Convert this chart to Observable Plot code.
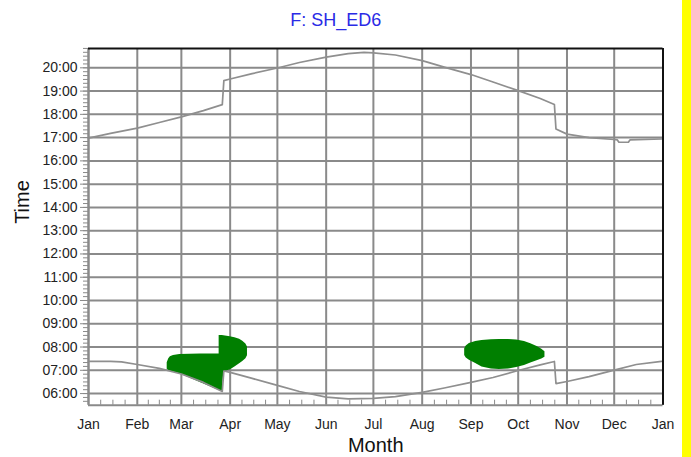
<!DOCTYPE html>
<html>
<head>
<meta charset="utf-8">
<script src="https://cdn.jsdelivr.net/npm/d3@7"></script>
<script src="https://cdn.jsdelivr.net/npm/@observablehq/plot@0.6"></script>
<style>
  html, body { margin: 0; padding: 0; background: #fff; }
  #wrap { position: relative; width: 691px; height: 457px; background: #fff; overflow: hidden; }
  #wrap svg { position: absolute; left: 0; top: 0; }
  #bar { position: absolute; left: 682px; top: 0; width: 9px; height: 457px; background: #ffff00; }
</style>
</head>
<body>
<div id="wrap"><div id="bar"></div></div>
<script>
// ---- texts ----
const chartTitle = "F: SH_ED6";
const xTitle = "Month";
const yTitle = "Time";

// ---- scales / ticks ----
const xDomain = ["2023-01-01", "2024-01-01"];
const yDomain = [5.5, 20.83];
const monthTicks = ["2023-01-01","2023-02-01","2023-03-01","2023-04-01","2023-05-01","2023-06-01",
  "2023-07-01","2023-08-01","2023-09-01","2023-10-01","2023-11-01","2023-12-01","2024-01-01"];
const monthLabels = ["Jan","Feb","Mar","Apr","May","Jun","Jul","Aug","Sep","Oct","Nov","Dec","Jan"];
const hourTicks = [6,7,8,9,10,11,12,13,14,15,16,17,18,19,20];
const hourLabels = ["06:00","07:00","08:00","09:00","10:00","11:00","12:00","13:00","14:00",
  "15:00","16:00","17:00","18:00","19:00","20:00"];

// ---- series: sunset (upper) and sunrise (lower), [date, hour] ----
const sunset = [
  ["2023-01-01",16.98],["2023-01-15",17.18],["2023-02-01",17.41],["2023-02-15",17.65],
  ["2023-03-01",17.89],["2023-03-15",18.16],["2023-03-27",18.42],["2023-03-28",19.45],
  ["2023-04-01",19.52],["2023-04-15",19.75],["2023-05-01",19.99],["2023-05-15",20.23],
  ["2023-06-01",20.46],["2023-06-15",20.61],["2023-06-25",20.66],["2023-07-01",20.64],
  ["2023-07-15",20.55],["2023-08-01",20.31],["2023-08-15",20.03],["2023-09-01",19.71],
  ["2023-09-15",19.39],["2023-10-01",19.02],["2023-10-15",18.68],["2023-10-24",18.42],
  ["2023-10-25",17.37],["2023-11-01",17.15],["2023-11-15",17.00],["2023-12-01",16.92],
  ["2023-12-03",16.90],["2023-12-04",16.80],["2023-12-10",16.80],["2023-12-11",16.90],
  ["2023-12-31",16.94]
];
const sunrise = [
  ["2023-01-01",7.38],["2023-01-15",7.38],["2023-01-22",7.36],["2023-02-01",7.25],
  ["2023-02-15",7.08],["2023-03-01",6.84],["2023-03-15",6.48],["2023-03-27",6.09],
  ["2023-03-28",6.97],["2023-04-01",6.91],["2023-04-15",6.65],["2023-05-01",6.35],
  ["2023-05-15",6.09],["2023-06-01",5.85],["2023-06-15",5.77],["2023-07-01",5.79],
  ["2023-07-15",5.87],["2023-08-01",6.05],["2023-08-15",6.24],["2023-09-01",6.48],
  ["2023-09-15",6.69],["2023-10-01",6.99],["2023-10-15",7.23],["2023-10-24",7.38],
  ["2023-10-25",6.43],["2023-11-01",6.52],["2023-11-15",6.73],["2023-12-01",7.01],
  ["2023-12-15",7.25],["2023-12-31",7.38]
];

// ---- glare periods: [date, from hour, to hour] ----
const glareSpring = [
  ["2023-02-20",7.04,7.32],["2023-02-21",6.99,7.50],["2023-02-22",6.97,7.58],
  ["2023-02-24",6.93,7.64],["2023-02-28",6.85,7.68],["2023-03-13",6.48,7.70],
  ["2023-03-19",6.30,7.70],["2023-03-25",6.13,7.70],["2023-03-25",6.13,8.50],
  ["2023-03-27",6.07,8.50],["2023-03-28",6.95,8.49],["2023-04-01",7.01,8.44],
  ["2023-04-04",7.14,8.40],["2023-04-07",7.28,8.33],["2023-04-09",7.38,8.25],
  ["2023-04-11",7.50,8.13],["2023-04-12",7.62,8.00]
];
const glareAutumn = [
  ["2023-08-28",7.64,7.93],["2023-08-29",7.53,8.04],["2023-08-31",7.43,8.15],
  ["2023-09-04",7.29,8.24],["2023-09-08",7.14,8.28],["2023-09-14",7.06,8.31],
  ["2023-09-19",7.03,8.32],["2023-09-25",7.06,8.32],["2023-09-30",7.12,8.30],
  ["2023-10-05",7.21,8.24],["2023-10-09",7.31,8.14],["2023-10-13",7.41,8.02],
  ["2023-10-16",7.49,7.90],["2023-10-18",7.56,7.80]
];

const D = s => new Date(s + "T00:00:00Z");
const monthDates = monthTicks.map(D);
const minorX = [];
for (let i = 0; i < monthDates.length - 1; i++) {
  const a = +monthDates[i], b = +monthDates[i + 1];
  for (let k = 1; k < 4; k++) minorX.push(new Date(a + (b - a) * k / 4));
}
const minorY = d3.range(34, 126).map(i => i / 6);

const grey = "#8a8a8a";
const curveGrey = "#8f8f8f";
const green = "#007f00";

const chart = Plot.plot({
  width: 691,
  height: 457,
  marginLeft: 88,
  marginRight: 28.5,
  marginTop: 48,
  marginBottom: 52.3,
  style: { fontFamily: "'Liberation Sans', Arial, sans-serif", fontSize: "14px", color: "#222", background: "transparent" },
  x: { type: "utc", domain: xDomain.map(D) },
  y: { domain: yDomain },
  marks: [
    Plot.gridX({ ticks: monthDates, stroke: grey, strokeOpacity: 1, strokeWidth: 2 }),
    Plot.gridY({ ticks: hourTicks, stroke: grey, strokeOpacity: 1, strokeWidth: 2 }),
    Plot.areaY(glareSpring, { x: d => D(d[0]), y1: d => d[1], y2: d => d[2], fill: green, curve: "linear" }),
    Plot.areaY(glareAutumn, { x: d => D(d[0]), y1: d => d[1], y2: d => d[2], fill: green, curve: "linear" }),
    Plot.lineY(sunset, { x: d => D(d[0]), y: d => d[1], stroke: curveGrey, strokeWidth: 1.7 }),
    Plot.lineY(sunrise, { x: d => D(d[0]), y: d => d[1], stroke: curveGrey, strokeWidth: 1.7 }),
    Plot.ruleX([D(xDomain[0])], { stroke: grey, strokeWidth: 2 }),
    Plot.ruleY([yDomain[0]], { stroke: grey, strokeWidth: 2 }),
    Plot.ruleY([yDomain[1]], { stroke: "#111", strokeWidth: 2 }),
    Plot.ruleX([D(xDomain[1])], { stroke: "#111", strokeWidth: 2 }),
    Plot.axisY({ ticks: minorY, tickSize: 5, tickFormat: () => "", stroke: grey }),
    Plot.axisY({ ticks: hourTicks, tickSize: 8, tickPadding: 3, stroke: grey, fill: "#222",
      tickFormat: d => hourLabels[hourTicks.indexOf(d)] }),
    Plot.axisX({ ticks: minorX, tickSize: -5, tickFormat: () => "", stroke: grey }),
    Plot.axisX({ ticks: monthDates, tickSize: 0, tickPadding: 13.5, fill: "#222",
      tickFormat: d => monthLabels[monthDates.findIndex(t => +t === +d)] }),
    Plot.text([chartTitle], { text: d => d, frameAnchor: "top", dx: -40, dy: -28, fill: "#2a2ae6", fontSize: 18, lineAnchor: "middle" }),
    Plot.text([xTitle], { text: d => d, frameAnchor: "bottom", dy: 40, fill: "#111", fontSize: 20, lineAnchor: "middle" }),
    Plot.text([yTitle], { text: d => d, frameAnchor: "left", dx: -66, dy: -3, rotate: -90, fill: "#111", fontSize: 20, lineAnchor: "middle" })
  ]
});
document.getElementById("wrap").insertBefore(chart, document.getElementById("bar"));
</script>
</body>
</html>
